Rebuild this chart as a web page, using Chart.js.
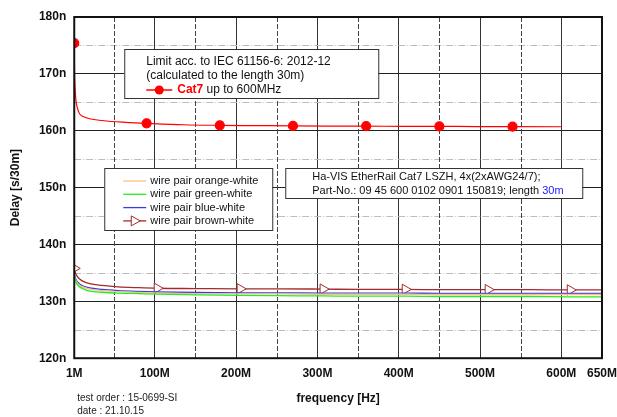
<!DOCTYPE html>
<html>
<head>
<meta charset="utf-8">
<script src="https://cdn.jsdelivr.net/npm/chart.js@4.4.1/dist/chart.umd.min.js"></script>
<style>
  html, body { margin: 0; padding: 0; background: #fff; }
  #wrap { width: 617px; height: 417px; position: relative; }
</style>
</head>
<body>
<div id="wrap"><canvas id="grafica"></canvas></div>
<script>
// Frecuencias en MHz, retardos en ns para 30 m
const freqLimit = [1, 1.3, 1.6, 2, 3, 4, 6, 8, 12, 20, 35, 60, 90, 135, 180, 225, 270, 315, 360, 405, 450, 495, 540, 600];
const cat7Limit = [175.4, 171.0, 169.0, 167.5, 165.5, 164.5, 163.5, 162.9, 162.5, 162.1, 161.8, 161.5, 161.3, 161.05, 160.95, 160.9, 160.85, 160.82, 160.8, 160.78, 160.76, 160.74, 160.72, 160.7];
const limitMarkerFreq = [1, 90, 180, 270, 360, 450, 540];

const freqWire = [1, 2, 3, 5, 8, 12, 20, 35, 55, 80, 103, 150, 205, 250, 307, 350, 408, 450, 510, 560, 611, 650];
const orangeWhite = [134.7, 134.1, 133.7, 133.2, 132.8, 132.5, 132.15, 131.9, 131.7, 131.55, 131.45, 131.35, 131.3, 131.3, 131.25, 131.25, 131.25, 131.2, 131.2, 131.2, 131.2, 131.2];
const greenWhite = [134.5, 133.9, 133.4, 132.9, 132.5, 132.2, 131.8, 131.6, 131.45, 131.35, 131.25, 131.15, 131.05, 131.0, 130.95, 130.9, 130.9, 130.85, 130.85, 130.85, 130.8, 130.8];
const blueWhite = [134.9, 134.3, 133.9, 133.4, 133.0, 132.7, 132.35, 132.1, 131.9, 131.75, 131.65, 131.55, 131.5, 131.5, 131.45, 131.45, 131.45, 131.4, 131.4, 131.4, 131.4, 131.4];
const brownWhite = [135.8, 135.2, 134.8, 134.3, 133.9, 133.5, 133.1, 132.8, 132.55, 132.4, 132.3, 132.25, 132.2, 132.2, 132.15, 132.1, 132.1, 132.05, 132.05, 132.05, 132.0, 132.0];
const brownMarkerFreq = [1, 103, 205, 307, 408, 510, 611];

const xTicks = [1, 50, 100, 150, 200, 250, 300, 350, 400, 450, 500, 550, 600, 650];
const yMin = 120, yMax = 180;

const FONT = "'Liberation Sans', Arial, sans-serif";

function toPoints(xs, ys) {
    return xs.map((x, i) => ({ x: x, y: ys[i] }));
}

// Series de pares de hilos (orden de la leyenda)
const wireSeries = [
    { label: 'wire pair orange-white', data: orangeWhite, color: '#ffbf80' },
    { label: 'wire pair green-white', data: greenWhite, color: '#22ee22' },
    { label: 'wire pair blue-white', data: blueWhite, color: '#3a3ae8' },
    { label: 'wire pair brown-white', data: brownWhite, color: '#a52a2a', markers: brownMarkerFreq }
];

const datasets = [];
// dibujar verde abajo, luego naranja, azul y marron
[1, 0, 2, 3].forEach(idx => {
    const s = wireSeries[idx];
    datasets.push({
        label: s.label,
        data: toPoints(freqWire, s.data),
        borderColor: s.color,
        backgroundColor: '#fff',
        borderWidth: 1.3,
        pointStyle: 'triangle',
        rotation: 90,
        pointRadius: s.markers ? freqWire.map(f => s.markers.includes(f) ? 6 : 0) : 0,
        pointBorderWidth: 1,
        cubicInterpolationMode: 'monotone'
    });
});
datasets.push({
    label: 'Cat7',
    data: toPoints(freqLimit, cat7Limit),
    borderColor: '#ff0000',
    backgroundColor: '#ff0000',
    borderWidth: 1.2,
    pointRadius: freqLimit.map(f => limitMarkerFreq.includes(f) ? 4.5 : 0),
    cubicInterpolationMode: 'monotone'
});

// Cuadricula secundaria, marco y cuadros de texto
const decoPlugin = {
    id: 'deco',
    beforeDatasetsDraw(chart) {
        const { ctx, chartArea: ca, scales } = chart;
        ctx.save();
        ctx.lineWidth = 1;
        ctx.strokeStyle = '#bdbdbd';
        ctx.setLineDash([7, 2, 1, 2]);
        for (let v = 125; v < yMax; v += 10) {
            const y = Math.round(scales.y.getPixelForValue(v)) + 0.5;
            ctx.beginPath(); ctx.moveTo(ca.left, y); ctx.lineTo(ca.right, y); ctx.stroke();
        }
        ctx.strokeStyle = '#444';
        ctx.setLineDash([5, 2]);
        for (let v = 50; v < 650; v += 100) {
            const x = Math.round(scales.x.getPixelForValue(v)) + 0.5;
            ctx.beginPath(); ctx.moveTo(x, ca.top); ctx.lineTo(x, ca.bottom); ctx.stroke();
        }
        ctx.restore();
    },
    afterDatasetsDraw(chart) {
        const { ctx, chartArea: ca } = chart;
        ctx.save();
        ctx.strokeStyle = '#111';
        ctx.lineWidth = 2;
        ctx.strokeRect(ca.left, ca.top, ca.right - ca.left, ca.bottom - ca.top);

        ctx.lineWidth = 1;
        ctx.strokeStyle = '#333';
        ctx.textBaseline = 'middle';

        // Cuadro del limite
        let bx = ca.left + 50, by = ca.top + 32;
        ctx.fillStyle = '#fff';
        ctx.fillRect(bx, by, 254, 49);
        ctx.strokeRect(bx + 0.5, by + 0.5, 254, 49);
        ctx.fillStyle = '#111';
        ctx.font = '12px ' + FONT;
        ctx.fillText('Limit acc. to IEC 61156-6: 2012-12', bx + 22, by + 13);
        ctx.fillText('(calculated to the length 30m)', bx + 22, by + 27);
        ctx.strokeStyle = '#ff0000';
        ctx.lineWidth = 1.5;
        ctx.beginPath(); ctx.moveTo(bx + 22, by + 41); ctx.lineTo(bx + 48, by + 41); ctx.stroke();
        ctx.fillStyle = '#ff0000';
        ctx.beginPath(); ctx.arc(bx + 35, by + 41, 4.5, 0, Math.PI * 2); ctx.fill();
        ctx.font = 'bold 12px ' + FONT;
        ctx.fillText('Cat7', bx + 53, by + 41);
        const w = ctx.measureText('Cat7').width;
        ctx.fillStyle = '#111';
        ctx.font = '12px ' + FONT;
        ctx.fillText(' up to 600MHz', bx + 53 + w, by + 41);

        // Leyenda de pares
        bx = ca.left + 30; by = ca.top + 151;
        ctx.lineWidth = 1;
        ctx.strokeStyle = '#333';
        ctx.fillStyle = '#fff';
        ctx.fillRect(bx, by, 168, 62);
        ctx.strokeRect(bx + 0.5, by + 0.5, 168, 62);
        ctx.font = '11px ' + FONT;
        wireSeries.forEach((s, i) => {
            const y = by + 13 + i * 13.3;
            ctx.strokeStyle = s.color;
            ctx.lineWidth = 1.3;
            ctx.beginPath(); ctx.moveTo(bx + 19, y); ctx.lineTo(bx + 42, y); ctx.stroke();
            if (s.markers) {
                ctx.fillStyle = '#fff';
                ctx.lineWidth = 1;
                ctx.beginPath();
                ctx.moveTo(bx + 27, y - 5); ctx.lineTo(bx + 36, y); ctx.lineTo(bx + 27, y + 5); ctx.closePath();
                ctx.fill(); ctx.stroke();
            }
            ctx.fillStyle = '#111';
            ctx.fillText(s.label, bx + 46, y);
        });

        // Cuadro del cable
        bx = ca.left + 211; by = ca.top + 151;
        ctx.strokeStyle = '#333';
        ctx.lineWidth = 1;
        ctx.fillStyle = '#fff';
        ctx.fillRect(bx, by, 297, 30);
        ctx.strokeRect(bx + 0.5, by + 0.5, 297, 30);
        ctx.fillStyle = '#111';
        ctx.fillText('Ha-VIS EtherRail Cat7 LSZH, 4x(2xAWG24/7);', bx + 27, by + 9);
        const t2 = 'Part-No.: 09 45 600 0102 0901 150819; length ';
        ctx.fillText(t2, bx + 27, by + 23);
        ctx.fillStyle = '#2020ff';
        ctx.fillText('30m', bx + 27 + ctx.measureText(t2).width, by + 23);

        // Pie de pagina
        ctx.fillStyle = '#222';
        ctx.font = '10px ' + FONT;
        ctx.fillText('test order : 15-0699-SI', ca.left + 3, 398);
        ctx.fillText('date : 21.10.15', ca.left + 3, 411);
        ctx.restore();
    }
};

new Chart(document.getElementById('grafica'), {
    type: 'line',
    data: { datasets: datasets },
    options: {
        responsive: true,
        maintainAspectRatio: false,
        animation: false,
        layout: { padding: { top: 17, right: 0, bottom: 7, left: 4.5 } },
        plugins: { legend: { display: false }, tooltip: { enabled: false } },
        scales: {
            x: {
                type: 'linear',
                min: 1,
                max: 650,
                afterBuildTicks: axis => { axis.ticks = xTicks.map(v => ({ value: v })); },
                ticks: {
                    autoSkip: false,
                    maxRotation: 0,
                    padding: 0,
                    color: '#111',
                    font: { family: FONT, size: 12, weight: 'bold' },
                    callback: v => (v === 1 || v % 100 === 0 || v === 650) ? v + 'M' : ''
                },
                grid: {
                    drawTicks: true,
                    tickLength: 8,
                    tickColor: 'rgba(0,0,0,0)',
                    color: c => (c.tick && c.tick.value % 100 === 0) ? '#333' : 'rgba(0,0,0,0)'
                },
                border: { display: false },
                title: {
                    display: true,
                    text: 'frequency [Hz]',
                    color: '#111',
                    padding: { top: 11 },
                    font: { family: FONT, size: 12, weight: 'bold' }
                }
            },
            y: {
                min: yMin,
                max: yMax,
                ticks: {
                    stepSize: 5,
                    padding: 8,
                    color: '#111',
                    font: { family: FONT, size: 12, weight: 'bold' },
                    callback: v => v % 10 === 0 ? v + 'n' : ''
                },
                grid: {
                    drawTicks: false,
                    color: c => (c.tick && c.tick.value % 10 === 0) ? '#222' : 'rgba(0,0,0,0)'
                },
                border: { display: false },
                title: {
                    display: true,
                    text: 'Delay [s/30m]',
                    color: '#111',
                    padding: { bottom: 8 },
                    font: { family: FONT, size: 12, weight: 'bold' }
                }
            }
        }
    },
    plugins: [decoPlugin]
});
</script>
</body>
</html>
